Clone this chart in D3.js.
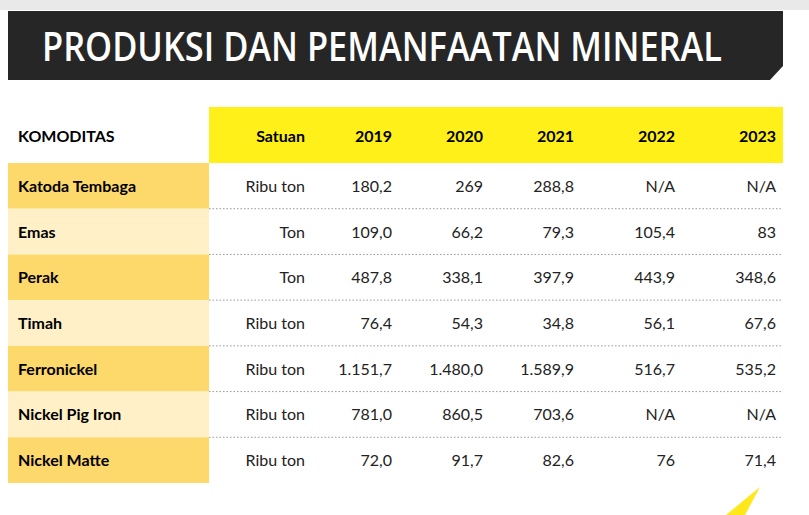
<!DOCTYPE html><html><head><meta charset="utf-8">
<script src="https://cdn.jsdelivr.net/npm/d3@7"></script>
<style>body{margin:0;background:#fff}</style></head><body>
<script>
const title = "PRODUKSI DAN PEMANFAATAN MINERAL";
const headers = ["KOMODITAS","Satuan","2019","2020","2021","2022","2023"];
const commodities = ["Katoda Tembaga","Emas","Perak","Timah","Ferronickel","Nickel Pig Iron","Nickel Matte"];
const units = ["Ribu ton","Ton","Ton","Ribu ton","Ribu ton","Ribu ton","Ribu ton"];
const v2019 = ["180,2","109,0","487,8","76,4","1.151,7","781,0","72,0"];
const v2020 = ["269","66,2","338,1","54,3","1.480,0","860,5","91,7"];
const v2021 = ["288,8","79,3","397,9","34,8","1.589,9","703,6","82,6"];
const v2022 = ["N/A","105,4","443,9","56,1","516,7","N/A","76"];
const v2023 = ["N/A","83","348,6","67,6","535,2","N/A","71,4"];
const cols = [units, v2019, v2020, v2021, v2022, v2023];
const colRight = [305,392,483,574,675,776];

const svg = d3.select("body").append("svg").attr("width",809).attr("height",515)
  .style("font-family","Lato, 'Open Sans', sans-serif");
svg.append("rect").attr("width",809).attr("height",10).attr("fill","#e9e9e9");
svg.append("path").attr("d","M8,11H783V66L770,80H8Z").attr("fill","#262626");
svg.append("text").attr("x",42).attr("y",61).attr("fill","#fff").attr("font-size",40)
  .attr("font-weight",600).style("font-family","'Open Sans', sans-serif").attr("textLength",680)
  .attr("lengthAdjust","spacingAndGlyphs").text(title);

const y = d3.scaleBand().domain(d3.range(commodities.length)).range([163,483]);
svg.append("rect").attr("x",209).attr("y",107).attr("width",574).attr("height",56).attr("fill","#fff01a");
svg.append("text").attr("x",18).attr("y",142).attr("font-size",16).attr("font-weight",700).text(headers[0]);
headers.slice(1).forEach((h,i)=>svg.append("text").attr("x",colRight[i]).attr("y",142)
  .attr("text-anchor","end").attr("font-size",16).attr("font-weight",700).text(h));

commodities.forEach((c,r)=>{
  const y0=y(r), h=y.bandwidth();
  svg.append("rect").attr("x",8).attr("y",y0).attr("width",201).attr("height",h)
    .attr("fill", r%2===0?"#fdd86a":"#fff0c8");
  svg.append("text").attr("x",18).attr("y",y0+h/2+6).attr("font-size",16).attr("font-weight",700).text(c);
  cols.forEach((col,i)=>svg.append("text").attr("x",colRight[i]).attr("y",y0+h/2+6)
    .attr("text-anchor","end").attr("font-size",16).attr("fill","#222").text(col[r]));
  if(r<commodities.length-1) svg.append("line").attr("x1",209).attr("x2",783).attr("y1",y0+h).attr("y2",y0+h)
    .attr("stroke","#999").attr("stroke-dasharray","1.5,2");
});
svg.append("path").attr("d","M760,487L726,515H745Z").attr("fill","#ffe81a");
</script></body></html>
